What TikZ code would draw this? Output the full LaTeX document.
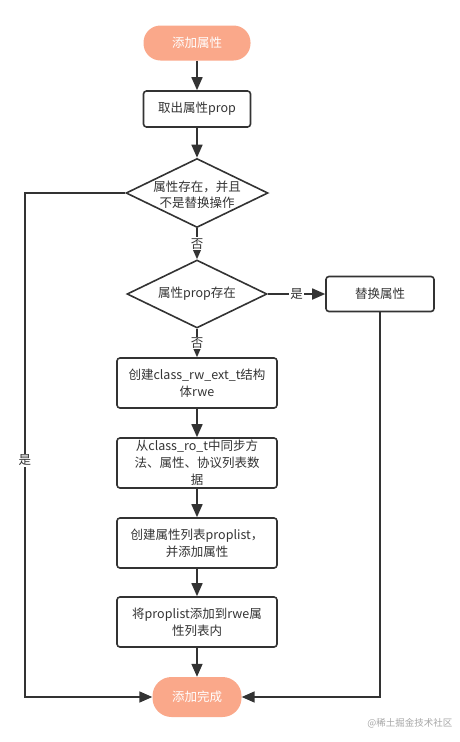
\documentclass[tikz,border=0pt]{standalone}
\usepackage{fontspec}
\setmainfont{Noto Sans CJK SC}
\usetikzlibrary{arrows.meta,shapes.geometric}
\definecolor{salmon}{RGB}{250,168,138}
\definecolor{ink}{RGB}{51,51,51}
\begin{document}
\begin{tikzpicture}[x=1pt,y=-1pt,
  font=\fontsize{12.5}{16}\selectfont,
  every node/.style={text=ink},
  proc/.style={draw=ink, line width=1.6pt, rounded corners=3pt, fill=white,
    minimum width=160pt, minimum height=50pt, align=center, inner sep=2pt,
    font=\fontsize{12.5}{17}\selectfont},
  pill/.style={fill=salmon, rounded corners=17pt, text=white,
    minimum width=107pt, minimum height=35pt, inner sep=2pt},
  dia/.style={diamond, draw=ink, line width=1.6pt, inner sep=0pt, fill=white},
  arr/.style={draw=ink, line width=1.7pt, -{Triangle[length=13pt,width=11pt]}},
  lab/.style={fill=white, inner sep=1pt}]
\useasboundingbox (0,0) rectangle (459,742);

\node[pill] (start) at (197,43) {添加属性};
\node[proc, minimum width=107pt, minimum height=36pt] (take) at (197,109) {取出属性prop};
\node[dia, minimum width=142pt, minimum height=69pt] (d1) at (197,193) {};
\node[align=center] (d1t) at (197,195) {属性存在，并且\\不是替换操作};
\node[dia, minimum width=140pt, minimum height=68pt] (d2) at (197,294) {};
\node (d2t) at (197,294) {属性prop存在};
\node[proc, minimum width=108pt, minimum height=35pt] (rep) at (380,294) {替换属性};
\node[proc] (b1) at (197,383) {创建class\_rw\_ext\_t结构\\体rwe};
\node[proc] (b2) at (197,463) {从class\_ro\_t中同步方\\法、属性、协议列表数\\据};
\node[proc] (b3) at (197,543) {创建属性列表proplist，\\并添加属性};
\node[proc] (b4) at (197,622) {将proplist添加到rwe属\\性列表内};
\node[pill, minimum width=89pt, minimum height=40pt, rounded corners=19pt] (end) at (197,697) {添加完成};

\coordinate (lt) at (25,193);
\coordinate (lb) at (25,697);

\draw[arr] (start) -- (take);
\draw[arr] (take) -- (d1);
\draw[arr] (d1) -- node[lab]{否} (d2);
\draw[arr] (d2) -- node[lab]{是} (rep);
\draw[arr] (d2) -- node[lab]{否} (b1);
\draw[arr] (b1) -- (b2);
\draw[arr] (b2) -- (b3);
\draw[arr] (b3) -- (b4);
\draw[arr] (b4) -- (end);
\draw[arr] (d1.west) -- (lt) -- node[lab, pos=0.53]{是} (lb) -- (end.west);
\draw[arr] (rep.south) |- (end.east);

\node[text=gray!70, font=\fontsize{9.5}{11}\selectfont, anchor=east] (wm) at (456,723) {@稀土掘金技术社区};
\end{tikzpicture}
\end{document}
